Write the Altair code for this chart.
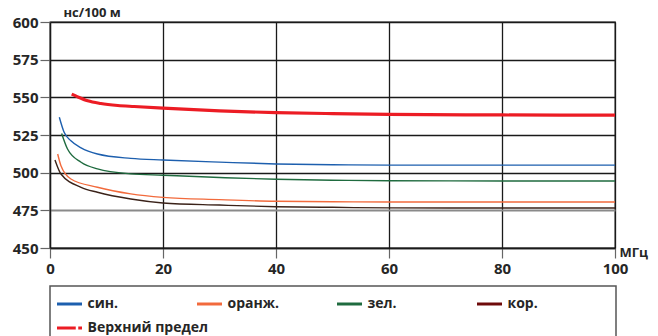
import altair as alt
import pandas as pd

# ---- data ----
names = ["син.", "оранж.", "зел.", "кор.", "Верхний предел"]

blue_f = [1.65, 2.5, 3.7, 5.5, 8.4, 14.3, 20, 30, 40, 50, 60, 80, 100]
blue_v = [536.8, 526.8, 521.2, 516.5, 512.4, 509.5, 508.4, 507.0, 505.8, 505.3, 505.0, 505.0, 505.0]

orange_f = [1.36, 1.94, 3.7, 8.4, 14.3, 20, 30, 40, 50, 60, 80, 100]
orange_v = [512.4, 504.6, 495.8, 490.3, 485.9, 483.6, 482.1, 481.0, 480.7, 480.5, 480.5, 480.5]

green_f = [2.06, 3.1, 5.5, 8.4, 14.3, 20, 30, 40, 50, 60, 80, 100]
green_v = [526.0, 515.7, 506.9, 502.5, 499.2, 498.3, 496.8, 495.6, 495.0, 494.6, 494.5, 494.5]

brown_f = [0.88, 1.94, 5.5, 8.4, 14.3, 20, 30, 40, 50, 60, 80, 100]
brown_v = [508.4, 499.1, 490.3, 487.0, 482.5, 479.9, 478.5, 477.4, 477.0, 476.6, 476.5, 476.5]

red_f = [3.84, 4.9, 6.67, 9.0, 12.0, 14.9, 20, 30, 40, 50, 60, 80, 100]
red_v = [552.1, 550.3, 547.7, 545.9, 544.6, 543.9, 542.8, 541.0, 539.8, 539.2, 538.7, 538.3, 538.2]

x_ticks = [0, 20, 40, 60, 80, 100]
y_ticks = [450, 475, 500, 525, 550, 575, 600]

line_colors = ["#1d5fae", "#f26a3c", "#1f6b3f", "#3a2219", "#ec1c24"]
legend_colors = ["#1d5fae", "#f26a3c", "#1f6b3f", "#6e0a0a", "#ec1c24"]

legend_col = [0, 1, 2, 3, 0]
legend_row = [0, 0, 0, 0, 1]

# ---- build table ----
rows = []
for nm, fs, vs in zip(names,
                      [blue_f, orange_f, green_f, brown_f, red_f],
                      [blue_v, orange_v, green_v, brown_v, red_v]):
    for f, v in zip(fs, vs):
        rows.append({"series": nm, "f": f, "v": v})
df = pd.DataFrame(rows)

FONT = "Open Sans"
TXT = "#262626"

xenc = alt.X("f:Q",
             scale=alt.Scale(domain=[0, 100], nice=False, zero=False),
             axis=alt.Axis(values=x_ticks, grid=True, gridColor="#1a1a1a", gridWidth=1.3,
                           tickSize=10, tickColor="#666", tickWidth=1.2,
                           domainColor="#1a1a1a", domainWidth=1.3,
                           labelFont=FONT, labelFontSize=15, labelFontWeight="bold",
                           labelColor=TXT, labelPadding=3, labelFlush=False,
                           title="МГц", titleFont=FONT, titleFontSize=13,
                           titleFontWeight="bold", titleColor=TXT,
                           titleAlign="left", titleBaseline="middle",
                           titleX=569, titleY=4, titleAngle=0))
yenc = alt.Y("v:Q",
             scale=alt.Scale(domain=[450, 600], nice=False, zero=False),
             axis=alt.Axis(values=y_ticks, grid=True,
                           gridColor={"condition": {"test": "datum.value === 475", "value": "#8a8a8a"},
                                      "value": "#1a1a1a"},
                           gridWidth={"condition": {"test": "datum.value === 475", "value": 2.2},
                                      "value": 1.3},
                           tickSize=10, tickColor="#666", tickWidth=1.2,
                           domainColor="#1a1a1a", domainWidth=1.3,
                           labelFont=FONT, labelFontSize=15, labelFontWeight="bold",
                           labelColor=TXT, labelPadding=2, labelFlush=False,
                           title="нс/100 м", titleFont=FONT, titleFontSize=13,
                           titleFontWeight="bold", titleColor=TXT,
                           titleAngle=0, titleAlign="left", titleBaseline="top",
                           titleX=13, titleY=-16))
cenc = alt.Color("series:N", scale=alt.Scale(domain=names, range=line_colors), legend=None)

thin = alt.Chart(df).transform_filter(
    alt.datum.series != names[4]
).mark_line(interpolate="monotone", clip=True, strokeWidth=1.4).encode(
    x=xenc, y=yenc, color=cenc, detail="series:N")
thick = alt.Chart(df).transform_filter(
    alt.datum.series == names[4]
).mark_line(interpolate="monotone", clip=True, strokeWidth=3.2).encode(
    x=xenc, y=yenc, color=cenc)

main = alt.layer(thin, thick).properties(
    width=565, height=226,
    view=alt.ViewBackground(stroke="#1a1a1a", strokeWidth=1.3))

leg_df = pd.DataFrame({"lname": names, "col": legend_col, "row": legend_row})
solid = "M-1,0H1"
dashdot = "M-1,0H0.5M0.7,0H1"

lx = alt.X("col:Q", scale=alt.Scale(domain=[0, 1], range=[19.5, 159.5]), axis=None)
ly = alt.Y("row:Q", scale=alt.Scale(domain=[0, 1], range=[18, 42]), axis=None)

sym = alt.Chart(leg_df).mark_point(filled=False, size=625, strokeWidth=3, opacity=1).encode(
    x=lx, y=ly,
    color=alt.Color("lname:N", scale=alt.Scale(domain=names, range=legend_colors), legend=None),
    shape=alt.Shape("lname:N", scale=alt.Scale(domain=names, range=[solid] * 4 + [dashdot]),
                    legend=None),
)
lab = alt.Chart(leg_df).mark_text(align="left", baseline="middle", dx=18, font=FONT,
                                  fontSize=14, fontWeight="bold", color=TXT).encode(
    x=lx, y=ly, text="lname:N")

legend = alt.layer(sym, lab).properties(
    width=566, height=62,
    view=alt.ViewBackground(stroke="#555", strokeWidth=1.5))

chart = alt.vconcat(main, legend, spacing=8).resolve_scale(
    color="independent", shape="independent"
).properties(padding={"top": -3, "left": 3, "right": 0, "bottom": 5}).configure(
    background="white"
)

chart.save("out.html", embed_options={"renderer": "svg", "actions": False})
